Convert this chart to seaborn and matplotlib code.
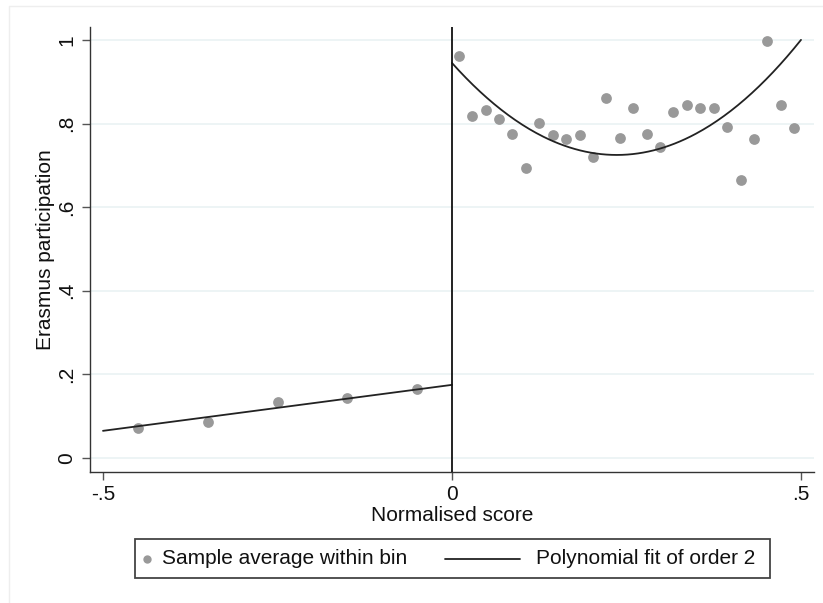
import numpy as np
import pandas as pd
import matplotlib
matplotlib.use("Agg")
import matplotlib.pyplot as plt
from matplotlib.patches import Rectangle
from matplotlib.lines import Line2D
import seaborn as sns

# Bin averages below the cutoff (bin centres and mean participation)
left_x = [-0.45, -0.35, -0.25, -0.15, -0.05]
left_y = [0.071, 0.087, 0.133, 0.144, 0.165]

# Bin averages above the cutoff (26 equal bins on [0, 0.5])
right_x = [(i + 0.5) / 52 for i in range(26)]
right_y = [0.962, 0.819, 0.833, 0.812, 0.775, 0.694, 0.801, 0.773, 0.764,
           0.772, 0.719, 0.861, 0.765, 0.837, 0.776, 0.745, 0.827, 0.845,
           0.838, 0.837, 0.792, 0.665, 0.763, 0.998, 0.845, 0.789]

# Order-2 polynomial fits on each side (highest power first)
left_fit = [0.0, 0.22, 0.175]
right_fit = [3.95, -1.8644, 0.945]

x_ticks = [-0.5, 0, 0.5]
x_tick_labels = ["-.5", "0", ".5"]
y_ticks = [0, 0.2, 0.4, 0.6, 0.8, 1.0]
y_tick_labels = ["0", ".2", ".4", ".6", ".8", "1"]

sns.set_theme(style="white")
plt.rcParams["font.family"] = ["Liberation Sans", "DejaVu Sans"]

W, H = 823, 603
fig = plt.figure(figsize=(W / 100, H / 100), dpi=100)
fig.patch.set_facecolor("white")

# Faint edge of the graph region (left and top only)
fig.add_artist(Line2D([8.5 / W, 8.5 / W, 1], [0, 1 - 5.5 / H, 1 - 5.5 / H],
                      transform=fig.transFigure, color="#eeeeee", linewidth=1))

ax_l, ax_r, ax_t, ax_b = 90, 814, 27, 472
ax = fig.add_axes([ax_l / W, 1 - ax_b / H, (ax_r - ax_l) / W, (ax_b - ax_t) / H])

pts = pd.DataFrame({
    "score": left_x + right_x,
    "participation": left_y + right_y,
})
sns.scatterplot(data=pts, x="score", y="participation", ax=ax, color="#999999",
                s=60, linewidth=0, zorder=3)

xl = np.linspace(-0.5, 0, 100)
xr = np.linspace(0, 0.5, 200)
fits = pd.DataFrame({
    "score": np.concatenate([xl, xr]),
    "fit": np.concatenate([np.polyval(left_fit, xl), np.polyval(right_fit, xr)]),
    "side": ["left"] * len(xl) + ["right"] * len(xr),
})
sns.lineplot(data=fits, x="score", y="fit", units="side", estimator=None,
             ax=ax, color="#222222", linewidth=1.3, zorder=4, legend=False)

ax.axvline(0, color="#111111", linewidth=1.3, zorder=5)

ax.set_xlim((ax_l - 452) / 698, (ax_r - 452) / 698)
ax.set_ylim((458 - ax_b) / 418, (458 - ax_t) / 418)

ax.set_yticks(y_ticks)
ax.set_yticklabels(y_tick_labels, rotation=90, va="center")
ax.set_xticks(x_ticks)
ax.set_xticklabels(x_tick_labels)

for y in y_ticks:
    ax.axhline(y, color="#eaf2f3", linewidth=1.2, zorder=1)

for side in ["top", "right"]:
    ax.spines[side].set_visible(False)
for side in ["left", "bottom"]:
    ax.spines[side].set_color("#333333")
    ax.spines[side].set_linewidth(1.0)

ax.tick_params(axis="both", which="major", length=6, width=1.0,
               color="#555555", labelsize=15, labelcolor="#111111",
               left=True, bottom=True)
ax.tick_params(axis="y", pad=4)
ax.tick_params(axis="x", pad=3)

ax.set_xlabel("Normalised score", fontsize=15, color="#111111", labelpad=2)
ax.set_ylabel("Erasmus participation", fontsize=15, color="#111111", labelpad=1.5)
ax.set_facecolor("white")

# Legend box below the axes
def px(x, y):
    return x / W, 1 - y / H

lx0, ly0, lx1, ly1 = 135, 539, 770, 578
fig.add_artist(Rectangle(px(lx0, ly1), (lx1 - lx0) / W, (ly1 - ly0) / H,
                         transform=fig.transFigure, fill=True,
                         facecolor="white", edgecolor="#444444", linewidth=1.3))
cy = (ly0 + ly1) / 2
fig.add_artist(Line2D([147 / W], [1 - cy / H], transform=fig.transFigure,
                      marker="o", markersize=6, color="#999999", linestyle="none",
                      markeredgewidth=0))
fig.text(*px(162, cy), "Sample average within bin", fontsize=15,
         color="#111111", va="center", ha="left")
fig.add_artist(Line2D([445 / W, 520 / W], [1 - cy / H, 1 - cy / H],
                      transform=fig.transFigure, color="#222222", linewidth=1.3))
fig.text(*px(536, cy), "Polynomial fit of order 2", fontsize=15,
         color="#111111", va="center", ha="left")

fig.savefig("out.png", dpi=100, facecolor="white")
